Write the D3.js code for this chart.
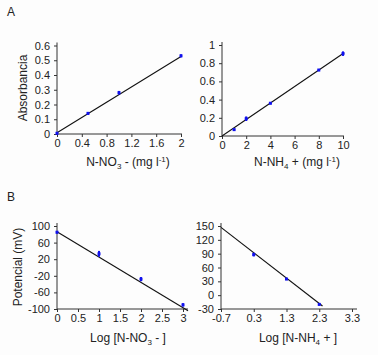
<!DOCTYPE html>
<html>
<head>
<meta charset="utf-8">
<script src="https://cdn.jsdelivr.net/npm/d3@7"></script>
<style>
  body { margin: 0; background: #fdfdfd; }
  svg text { font-family: "Liberation Sans", Arial, sans-serif; fill: #222; }
</style>
</head>
<body>
<div id="chart"></div>
<script>
// panel A left: nitrate calibration
const no3Conc = [0, 0.5, 1, 2];
const no3Abs = [0.005, 0.14, 0.28, 0.53];
const no3AbsErr = [0.005, 0.004, 0.012, 0.01];
const no3AbsFit = { slope: 0.259, intercept: 0.008, from: 0, to: 2 };
const no3AbsXTicks = [0, 0.4, 0.8, 1.2, 1.6, 2];
const no3AbsYTicks = [0, 0.1, 0.2, 0.3, 0.4, 0.5, 0.6];

// panel A right: ammonium calibration
const nh4Conc = [1, 2, 4, 8, 10];
const nh4Abs = [0.07, 0.19, 0.36, 0.725, 0.905];
const nh4AbsErr = [0.008, 0.025, 0.01, 0.01, 0.025];
const nh4AbsFit = { slope: 0.0905, intercept: 0.0, from: 0, to: 10.1 };
const nh4AbsXTicks = [0, 2, 4, 6, 8, 10];
const nh4AbsYTicks = [0, 0.2, 0.4, 0.6, 0.8, 1];

// panel B left: nitrate electrode
const no3Log = [0, 1, 2, 3];
const no3mV = [85, 33, -28, -90];
const no3mVErr = [3, 7, 5, 4];
const no3mVFit = { slope: -61, intercept: 86, from: 0, to: 3.12 };
const no3mVXTicks = [0, 0.5, 1, 1.5, 2, 2.5, 3];
const no3mVYTicks = [-100, -60, -20, 20, 60, 100];

// panel B right: ammonium electrode
const nh4Log = [0.3, 1.3, 2.3];
const nh4mV = [88, 35, -20];
const nh4mVErr = [4, 2, 2];
const nh4mVFit = { slope: -55, intercept: 108.5, from: -0.7, to: 2.4 };
const nh4mVXTicks = [-0.7, 0.3, 1.3, 2.3, 3.3];
const nh4mVYTicks = [-30, 0, 30, 60, 90, 120, 150];

const width = 378, height = 355;

const svg = d3.select('#chart').append('svg')
    .attr('width', width)
    .attr('height', height);

svg.append('text').attr('x', 7).attr('y', 16).style('font-size', '12px').text('A');
svg.append('text').attr('x', 7).attr('y', 201).style('font-size', '12px').text('B');

function panel(opt) {
    const x = d3.scaleLinear().domain(opt.xDomain).range(opt.xRange);
    const y = d3.scaleLinear().domain(opt.yDomain).range(opt.yRange);
    const g = svg.append('g');

    // axes lines
    g.append('line')
        .attr('x1', opt.xRange[0]).attr('x2', opt.xRange[0])
        .attr('y1', opt.yRange[0]).attr('y2', opt.yRange[1] - 3)
        .attr('stroke', '#333');
    g.append('line')
        .attr('x1', opt.xRange[0]).attr('x2', opt.xRange[1] + (opt.xExtra || 1))
        .attr('y1', opt.yRange[0]).attr('y2', opt.yRange[0])
        .attr('stroke', '#333');

    const xAxis = d3.axisBottom(x).tickValues(opt.xTicks).tickSize(3).tickPadding(2)
        .tickFormat(d => d);
    const yAxis = d3.axisLeft(y).tickValues(opt.yTicks).tickSize(3).tickPadding(4)
        .tickFormat(d => d);

    const gx = g.append('g').attr('transform', `translate(0,${opt.yRange[0]})`).call(xAxis);
    const gy = g.append('g').attr('transform', `translate(${opt.xRange[0]},0)`).call(yAxis);
    [gx, gy].forEach(a => {
        a.select('.domain').remove();
        a.selectAll('line').attr('stroke', '#333');
        a.selectAll('text').style('font-size', '11px').attr('fill', '#222');
    });

    // fit line
    const fit = opt.fit;
    g.append('line')
        .attr('x1', x(fit.from)).attr('y1', y(fit.intercept + fit.slope * fit.from))
        .attr('x2', x(fit.to)).attr('y2', y(fit.intercept + fit.slope * fit.to))
        .attr('stroke', '#111').attr('stroke-width', 1.1);

    // error bars + points
    const pts = opt.xs.map((v, i) => ({ x: v, y: opt.ys[i], e: opt.errs[i] }));
    g.selectAll('rect.err').data(pts).enter().append('rect')
        .attr('class', 'err')
        .attr('x', d => x(d.x) - 1)
        .attr('y', d => y(d.y + d.e))
        .attr('width', 2)
        .attr('height', d => Math.max(2, y(d.y - d.e) - y(d.y + d.e)))
        .attr('fill', '#1010ee');
    g.selectAll('rect.pt').data(pts).enter().append('rect')
        .attr('class', 'pt')
        .attr('x', d => x(d.x) - 1.5)
        .attr('y', d => y(d.y) - 1.5)
        .attr('width', 3).attr('height', 3)
        .attr('fill', '#1010ee');

    // axis titles
    if (opt.yTitle) {
        g.append('text')
            .attr('transform', `translate(${opt.yTitlePos[0]},${opt.yTitlePos[1]}) rotate(-90)`)
            .attr('text-anchor', 'middle')
            .style('font-size', '12px')
            .text(opt.yTitle);
    }

    const xt = g.append('text')
        .attr('x', opt.xTitlePos[0]).attr('y', opt.xTitlePos[1])
        .attr('text-anchor', 'middle')
        .style('font-size', '12px');
    opt.xTitle(xt);
}

panel({
    xDomain: [0, 2], xRange: [57, 181],
    yDomain: [0, 0.6], yRange: [134, 45.5],
    xTicks: no3AbsXTicks, yTicks: no3AbsYTicks,
    xs: no3Conc, ys: no3Abs, errs: no3AbsErr, fit: no3AbsFit,
    yTitle: 'Absorbancia', yTitlePos: [27, 88],
    xTitlePos: [128, 166],
    xTitle: t => {
        t.append('tspan').text('N-NO');
        t.append('tspan').attr('dy', 3).style('font-size', '8px').text('3');
        t.append('tspan').attr('dy', -3).text(' - (mg l');
        t.append('tspan').attr('dy', -4).style('font-size', '8px').text('-1');
        t.append('tspan').attr('dy', 4).text(')');
    }
});

panel({
    xDomain: [0, 10], xRange: [222, 343],
    yDomain: [0, 1], yRange: [136, 45],
    xTicks: nh4AbsXTicks, yTicks: nh4AbsYTicks,
    xs: nh4Conc, ys: nh4Abs, errs: nh4AbsErr, fit: nh4AbsFit,
    yTitle: null,
    xTitlePos: [297, 166],
    xTitle: t => {
        t.append('tspan').text('N-NH');
        t.append('tspan').attr('dy', 3).style('font-size', '8px').text('4');
        t.append('tspan').attr('dy', -3).text(' + (mg l');
        t.append('tspan').attr('dy', -4).style('font-size', '8px').text('-1');
        t.append('tspan').attr('dy', 4).text(')');
    }
});

panel({
    xDomain: [0, 3], xRange: [57, 183], xExtra: 5,
    yDomain: [-100, 100], yRange: [309, 226],
    xTicks: no3mVXTicks, yTicks: no3mVYTicks,
    xs: no3Log, ys: no3mV, errs: no3mVErr, fit: no3mVFit,
    yTitle: 'Potencial (mV)', yTitlePos: [22, 267],
    xTitlePos: [128, 342],
    xTitle: t => {
        t.append('tspan').text('Log [N-NO');
        t.append('tspan').attr('dy', 3).style('font-size', '8px').text('3');
        t.append('tspan').attr('dy', -3).text(' - ]');
    }
});

panel({
    xDomain: [-0.7, 3.3], xRange: [221, 352], xExtra: 5,
    yDomain: [-30, 150], yRange: [309, 226],
    xTicks: nh4mVXTicks, yTicks: nh4mVYTicks,
    xs: nh4Log, ys: nh4mV, errs: nh4mVErr, fit: nh4mVFit,
    yTitle: null,
    xTitlePos: [298, 342],
    xTitle: t => {
        t.append('tspan').text('Log [N-NH');
        t.append('tspan').attr('dy', 3).style('font-size', '8px').text('4');
        t.append('tspan').attr('dy', -3).text(' + ]');
    }
});
</script>
</body>
</html>
